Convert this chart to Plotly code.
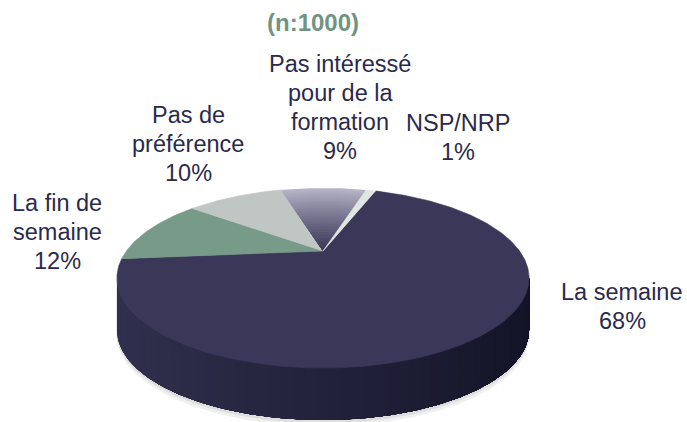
import numpy as np
import plotly.graph_objects as go

# --- data ---
labels = [["La semaine"], ["La fin de", "semaine"], ["Pas de", "préférence"],
          ["Pas intéressé", "pour de la", "formation"], ["NSP/NRP"]]
values = [68, 12, 10, 9, 1]
sample_note = "(n:1000)"

# --- styles / geometry (screen px, y axis reversed) ---
top_colors = ["#3a3759", "#789a88", "#c0c6c3", None, "#e0e6e1"]
grad_dark, grad_light = (58, 55, 89), (184, 183, 200)   # slice "Pas intéressé"
side_left, side_right = (48, 47, 77), (20, 20, 40)
label_pos = [(622, 306), (57, 232), (188, 144), (340, 107), (458, 137)]
LINE_H = 29
TXT = "#2b2a4c"
FONT = "Liberation Sans, Arial, sans-serif"

X0, Y0 = 323, 251          # projected centre of the disc
A, B, P = 196.6, 81.9, 0.3  # half width, half height, perspective factor
DEPTH = 52
START = 70                 # first slice starts here, clockwise


def proj(phi, r=1.0, dy=0.0):
    phi = np.radians(phi)
    s, c = r * np.sin(phi), r * np.cos(phi)
    den = 1 + P * s
    return X0 + A * c / den, Y0 - B * s / den + dy


def arc(a1, a2, r=1.0, dy=0.0):
    n = max(4, int(abs(a1 - a2) * 2))
    phis = np.linspace(a1, a2, n)
    return proj(phis, r, dy)


def rgb(c):
    return "rgb(%d,%d,%d)" % tuple(int(round(v)) for v in c)


def mix(c1, c2, t):
    return [a + (b - a) * t for a, b in zip(c1, c2)]


def poly(fig, xs, ys, color, lw=0.6):
    fig.add_trace(go.Scatter(x=list(xs), y=list(ys), fill="toself", mode="lines",
                             fillcolor=color, line=dict(color=color, width=lw),
                             hoverinfo="skip", showlegend=False))


fig = go.Figure()

# soft shadow under the disc
for dy, col in [(DEPTH + 6, "#f0f0f0"), (DEPTH + 3, "#dedede")]:
    xs, ys = arc(0, -360, 1.0, dy)
    poly(fig, xs, ys, col)

# visible front side; overlapping pieces left->right give a seamless gradient
edge = np.degrees(np.arcsin(P))
vis_a, vis_b = -180 + edge, -edge
xl, _ = proj(vis_a)
xr, _ = proj(vis_b)
steps = np.linspace(vis_a, vis_b, 60)
for a in steps[:-1]:
    tx, ty = arc(a, vis_b)
    bx, by = arc(vis_b, a, 1.0, DEPTH)
    t = (proj(a)[0] - xl) / (xr - xl)
    poly(fig, np.r_[tx, bx], np.r_[ty, by], rgb(mix(side_left, side_right, t)), 0)

# top faces
a1 = START
for i, v in enumerate(values):
    a2 = a1 - v * 3.6
    if top_colors[i] is not None:
        xs, ys = arc(a1, a2)
        poly(fig, np.r_[X0, xs, X0], np.r_[Y0, ys, Y0], top_colors[i])
    else:
        # nested wedges, outer (light) first, inner (dark) on top
        n = 24
        for k in range(n, 0, -1):
            r = k / n
            xs, ys = arc(a1, a2, r)
            col = rgb(mix(grad_dark, grad_light, (k - 0.5) / n))
            poly(fig, np.r_[X0, xs, X0], np.r_[Y0, ys, Y0], col, 0)
    a1 = a2

# labels, one annotation per line for tight spacing
for lines, v, (x, y) in zip(labels, values, label_pos):
    rows = lines + [f"{v}%"]
    for j, row in enumerate(rows):
        fig.add_annotation(x=x, y=y + (j - (len(rows) - 1) / 2) * LINE_H, text=row,
                           showarrow=False, xanchor="center", yanchor="middle",
                           font=dict(family=FONT, size=23.5, color=TXT))

fig.add_annotation(x=313, y=22, text=f"<b>{sample_note}</b>", showarrow=False,
                   xanchor="center", yanchor="middle",
                   font=dict(family=FONT, size=24, color="#6f9582"))

fig.update_layout(
    width=687, height=422,
    margin=dict(l=0, r=0, t=0, b=0),
    paper_bgcolor="white", plot_bgcolor="white",
    xaxis=dict(range=[0, 687], visible=False, fixedrange=True),
    yaxis=dict(range=[422, 0], visible=False, fixedrange=True),
)

fig.write_html("out.html", config={"displayModeBar": False},
               post_script="document.body.style.margin='0';")
